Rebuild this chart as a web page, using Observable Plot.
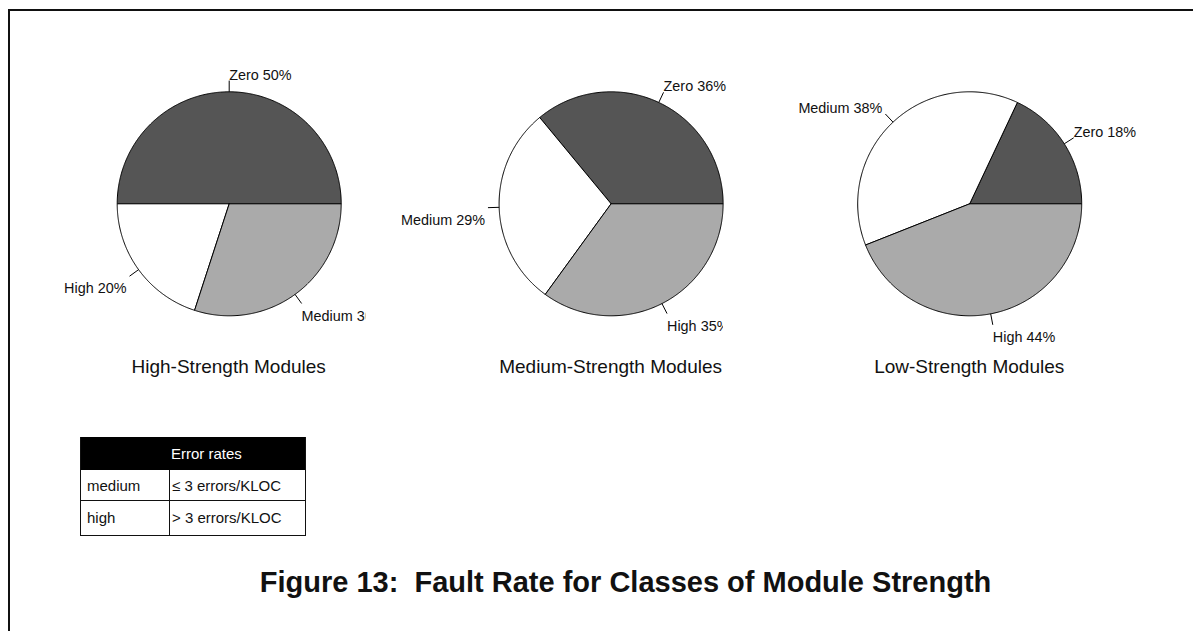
<!DOCTYPE html>
<html>
<head>
<meta charset="utf-8">
<script src="https://cdn.jsdelivr.net/npm/d3@7"></script>
<script src="https://cdn.jsdelivr.net/npm/@observablehq/plot@0.6"></script>
<style>
  html, body { margin: 0; padding: 0; background: #fff; }
  body { width: 1193px; height: 631px; position: relative; overflow: hidden;
         font-family: "Liberation Sans", Arial, Helvetica, sans-serif; color: #111; }
  #frame { position: absolute; left: 8px; top: 9px; width: 1200px; height: 640px;
           border-top: 2px solid #111; border-left: 2px solid #111; box-sizing: border-box; }
  .pie { position: absolute; top: 40px; }
  .sub { position: absolute; top: 357px; font-size: 19px; line-height: 19px; white-space: nowrap;
         transform: translateX(-50%); }
  #title { position: absolute; left: 0; width: 1251px; top: 568px; text-align: center;
           font-weight: bold; font-size: 29px; line-height: 29px; white-space: pre; }
  .cell { position: absolute; display: flex; align-items: center; font-size: 15px; white-space: nowrap; }
  .hline { position: absolute; height: 1px; background: #111; }
  .vline { position: absolute; width: 1px; background: #111; }
</style>
</head>
<body>
<div id="frame"></div>
<div id="root"></div>
<script>
// ---------------- data ----------------
const highStrengthCategories = ["Zero", "High", "Medium"];
const highStrengthValues = [50, 20, 30];

const mediumStrengthCategories = ["Zero", "Medium", "High"];
const mediumStrengthValues = [36, 29, 35];

const lowStrengthCategories = ["Zero", "Medium", "High"];
const lowStrengthValues = [18, 38, 44];

const pieTitles = ["High-Strength Modules", "Medium-Strength Modules", "Low-Strength Modules"];

const tableHeader = "Error rates";
const tableLevels = ["medium", "high"];
const tableRates = ["\u2264 3 errors/KLOC", "> 3 errors/KLOC"];

const figureTitle = "Figure 13:  Fault Rate for Classes of Module Strength";

// ---------------- styles / layout ----------------
const sliceColors = ["#555555", "#ffffff", "#aaaaaa"]; // by slice order
const PX = 112;          // pixels per pie radius
const SVG_TOP = 40, SVG_H = 320, CY = 203.3;
// clipTop / clipBottom: right clip edge (page px) of the upper / lower half of each panel
const panels = [
  {cats: highStrengthCategories, vals: highStrengthValues, left: 20, width: 346, cx: 228.7, clipTop: 366, clipBottom: 365.4},
  {cats: mediumStrengthCategories, vals: mediumStrengthValues, left: 380, width: 360, cx: 610.6, clipTop: 740, clipBottom: 723},
  {cats: lowStrengthCategories, vals: lowStrengthValues, left: 740, width: 453, cx: 969.2, clipTop: 1193, clipBottom: 1193}
];

function slices(cats, vals) {
  const total = d3.sum(vals);
  let acc = 0;
  return cats.map((c, i) => {
    const a0 = acc / total * 2 * Math.PI;
    acc += vals[i];
    const a1 = acc / total * 2 * Math.PI;
    const mid = (a0 + a1) / 2;
    return {i, cat: c, val: vals[i], a0, a1, mid, c: Math.cos(mid), s: Math.sin(mid),
            label: `${c} ${vals[i]}%`};
  });
}

function wedgePoints(sl) {
  const pts = [];
  for (const d of sl) {
    const n = Math.max(2, Math.ceil((d.a1 - d.a0) / (Math.PI / 360)));
    pts.push({k: d.i, x: 0, y: 0});
    for (let j = 0; j <= n; j++) {
      const a = d.a0 + (d.a1 - d.a0) * j / n;
      pts.push({k: d.i, x: Math.cos(a), y: Math.sin(a)});
    }
    pts.push({k: d.i, x: 0, y: 0});
  }
  return pts;
}

function labelText(sl, right, upper) {
  return Plot.text(sl, {
    filter: d => (d.c >= -1e-9) === right && (d.s >= 0) === upper,
    x: d => 1.1 * d.c, y: d => 1.1 * d.s, text: "label",
    textAnchor: right ? "start" : "end",
    lineAnchor: upper ? "bottom" : "top",
    dx: right ? 0 : -3, dy: upper ? -1 : 7,
    fontSize: 14.4, fill: "#111"
  });
}

const root = document.getElementById("root");
panels.forEach((p, idx) => {
  const sl = slices(p.cats, p.vals);
  const cyLocal = CY - SVG_TOP;
  const chart = Plot.plot({
    width: p.width, height: SVG_H,
    marginTop: 0, marginRight: 0, marginBottom: 0, marginLeft: 0,
    x: {domain: [(p.left - p.cx) / PX, (p.left + p.width - p.cx) / PX], axis: null},
    y: {domain: [-(SVG_H - cyLocal) / PX, cyLocal / PX], axis: null},
    color: {type: "ordinal", domain: [0, 1, 2], range: sliceColors},
    marks: [
      Plot.line(wedgePoints(sl), {x: "x", y: "y", z: "k", fill: "k", stroke: "#000",
                                  strokeWidth: 1, strokeLinejoin: "round"}),
      Plot.link(sl, {x1: d => d.c, y1: d => d.s, x2: d => 1.1 * d.c, y2: d => 1.1 * d.s,
                     stroke: "#000", strokeWidth: 1}),
      labelText(sl, true, true), labelText(sl, true, false),
      labelText(sl, false, true), labelText(sl, false, false)
    ]
  });
  chart.classList.add("pie");
  chart.style.left = p.left + "px";
  chart.style.overflow = "hidden";
  chart.style.background = "transparent";
  chart.style.fontFamily = '"Liberation Sans", Arial, sans-serif';
  chart.style.maxWidth = "none";
  const wt = p.clipTop - p.left, wb = p.clipBottom - p.left, ys = cyLocal + 20;
  chart.style.clipPath = `polygon(0px 0px, ${wt}px 0px, ${wt}px ${ys}px, ${wb}px ${ys}px, ${wb}px ${SVG_H}px, 0px ${SVG_H}px)`;
  root.appendChild(chart);

  const sub = document.createElement("div");
  sub.className = "sub";
  sub.style.left = p.cx + "px";
  sub.textContent = pieTitles[idx];
  root.appendChild(sub);
});

// ---------------- table ----------------
function addDiv(cls, styles, text) {
  const d = document.createElement("div");
  d.className = cls;
  Object.assign(d.style, styles);
  if (text != null) d.textContent = text;
  root.appendChild(d);
  return d;
}
const T = {left: 80, right: 305, top: 437, headBottom: 470, rows: [470, 500, 535], col: 169};
addDiv("", {position: "absolute", left: T.left + "px", top: T.top + "px",
            width: (T.right - T.left + 1) + "px", height: (T.headBottom - T.top) + "px", background: "#000"});
addDiv("cell", {left: "171px", top: T.top + "px", height: (T.headBottom - T.top) + "px", color: "#fff"}, tableHeader);
tableLevels.forEach((lv, i) => {
  const y0 = T.rows[i], y1 = T.rows[i + 1];
  addDiv("cell", {left: "87px", top: y0 + "px", height: (y1 - y0) + "px"}, lv);
  addDiv("cell", {left: "172px", top: y0 + "px", height: (y1 - y0) + "px"}, tableRates[i]);
  addDiv("hline", {left: T.left + "px", top: y1 + "px", width: (T.right - T.left + 1) + "px"});
});
addDiv("vline", {left: T.left + "px", top: T.top + "px", height: (T.rows[2] - T.top + 1) + "px"});
addDiv("vline", {left: T.right + "px", top: T.top + "px", height: (T.rows[2] - T.top + 1) + "px"});
addDiv("vline", {left: T.col + "px", top: T.headBottom + "px", height: (T.rows[2] - T.headBottom) + "px"});

const title = document.createElement("div");
title.id = "title";
title.textContent = figureTitle;
root.appendChild(title);
</script>
</body>
</html>
